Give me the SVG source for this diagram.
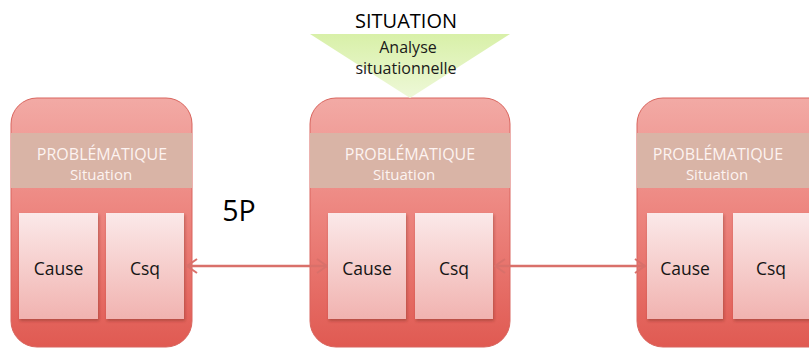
<svg xmlns="http://www.w3.org/2000/svg" width="809" height="349" viewBox="0 0 809 349">
<defs>
<linearGradient id="gCont" x1="0" y1="0" x2="0" y2="1">
<stop offset="0" stop-color="#f2aaa5"/>
<stop offset="0.4" stop-color="#ee8a84"/>
<stop offset="1" stop-color="#e05a52"/>
</linearGradient>
<linearGradient id="gBox" x1="0" y1="0" x2="0" y2="1">
<stop offset="0" stop-color="#fbe9e9"/>
<stop offset="1" stop-color="#f1b3b0"/>
</linearGradient>
<linearGradient id="gTri" x1="0" y1="0" x2="0" y2="1">
<stop offset="0" stop-color="#d8f0a8"/>
<stop offset="1" stop-color="#eef8d8"/>
</linearGradient>
<filter id="sh" x="-10%" y="-10%" width="130%" height="130%">
<feDropShadow dx="1" dy="2" stdDeviation="1.5" flood-color="#7a2a26" flood-opacity="0.45"/>
</filter>
<marker id="ah" viewBox="0 0 12 16" refX="11" refY="8" markerWidth="12" markerHeight="16" markerUnits="userSpaceOnUse" orient="auto-start-reverse">
<path d="M1,1 L11,8 L1,15" fill="none" stroke="#d9706a" stroke-width="2"/>
</marker>
</defs>
<style>
.cont{fill:url(#gCont);stroke:#d9655e;stroke-width:1}
.band{fill:#d9b4a6}
.box{fill:url(#gBox);filter:url(#sh)}
.bt{font-family:"Open Sans","Liberation Sans",sans-serif;fill:#fdf3f1;text-anchor:middle}
.t1{font-size:16px}
.t2{font-size:15px}
.lt{font-family:"Open Sans","Liberation Sans",sans-serif;font-size:17.5px;fill:#151515;text-anchor:middle}
.conn{stroke:#d9706a;stroke-width:2.5;fill:none;marker-start:url(#ah);marker-end:url(#ah)}
.ft{font-family:"Open Sans","Liberation Sans",sans-serif;text-anchor:middle}
</style>
<rect width="809" height="349" fill="#ffffff"/>

<g id="node-left">
<rect class="cont" x="11" y="98" width="181" height="249" rx="26"/>
<rect class="band" x="11" y="133" width="181" height="55"/>
<text class="bt t1" x="102" y="160">PROBLÉMATIQUE</text>
<text class="bt t2" x="101" y="180">Situation</text>
<g id="left-cause"><rect class="box" x="19" y="213" width="79" height="106"/><text class="lt" x="58.5" y="275">Cause</text></g>
<g id="left-csq"><rect class="box" x="106" y="213" width="78" height="106"/><text class="lt" x="145" y="275">Csq</text></g>
</g>

<g id="node-middle">
<rect class="cont" x="310" y="98" width="200" height="249" rx="26"/>
<rect class="band" x="310" y="133" width="200" height="55"/>
<text class="bt t1" x="410" y="160">PROBLÉMATIQUE</text>
<text class="bt t2" x="404" y="180">Situation</text>
<g id="mid-cause"><rect class="box" x="328" y="213" width="78" height="106"/><text class="lt" x="367" y="275">Cause</text></g>
<g id="mid-csq"><rect class="box" x="415" y="213" width="78" height="106"/><text class="lt" x="454" y="275">Csq</text></g>
</g>

<g id="node-right">
<rect class="cont" x="637" y="98" width="200" height="249" rx="26"/>
<rect class="band" x="637" y="133" width="200" height="55"/>
<text class="bt t1" x="718" y="160">PROBLÉMATIQUE</text>
<text class="bt t2" x="717" y="180">Situation</text>
<g id="right-cause"><rect class="box" x="647" y="213" width="76" height="106"/><text class="lt" x="685" y="275">Cause</text></g>
<g id="right-csq"><rect class="box" x="733" y="213" width="80" height="106"/><text class="lt" x="771" y="275">Csq</text></g>
</g>

<g id="node-situation">
<text class="ft" x="406" y="28" font-size="20" fill="#000">SITUATION</text>
<polygon points="310,34 510,34 410,98" fill="url(#gTri)"/>
<text class="ft" x="408" y="53" font-size="16" fill="#1a1a1a">Analyse</text>
<text class="ft" x="406" y="74" font-size="16" fill="#1a1a1a">situationnelle</text>
</g>

<g id="label-5p">
<text class="ft" x="239" y="221" font-size="28.5" fill="#000">5P</text>
</g>

<g id="connectors">
<line class="conn" x1="187" y1="266" x2="327" y2="266"/>
<line class="conn" x1="495" y1="266" x2="645" y2="266"/>
</g>
</svg>
